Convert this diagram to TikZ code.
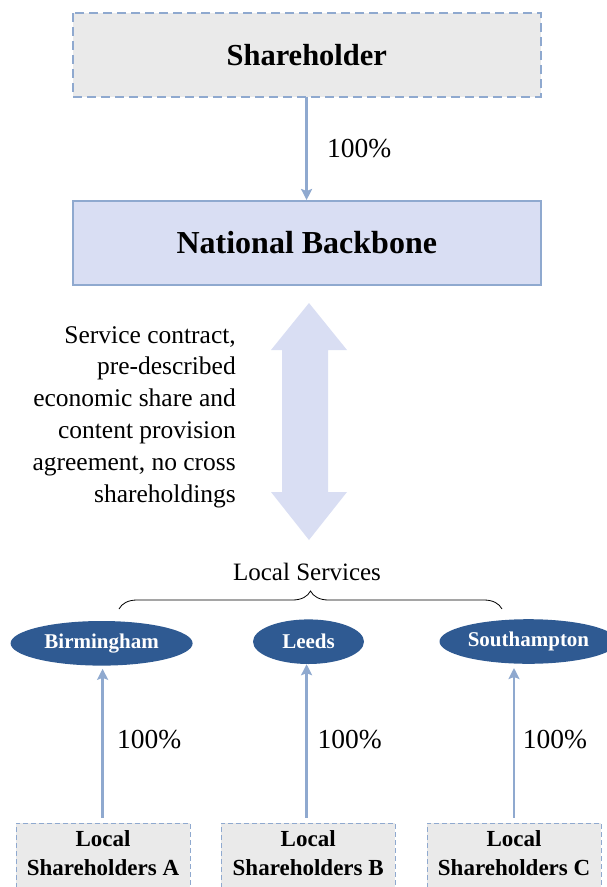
\documentclass[tikz,border=0pt]{standalone}
\usepackage{fontspec}
\setmainfont{Liberation Serif}
\usetikzlibrary{arrows.meta,decorations.pathreplacing,shapes.geometric}
\definecolor{bordc}{HTML}{8FA9CF}
\definecolor{grayf}{HTML}{EAEAEA}
\definecolor{bluef}{HTML}{D9DEF3}
\definecolor{ellc}{HTML}{2F5A92}
\tikzset{
  dashbox/.style={draw=bordc,fill=grayf,line width=1.8pt,dash pattern=on 9pt off 5pt},
  solidbox/.style={draw=bordc,fill=bluef,line width=1.8pt},
  city/.style={ellipse,fill=ellc,text=white,font=\fontsize{21}{24}\selectfont\bfseries,inner sep=0pt},
  own/.style={draw=bordc,line width=2.6pt,-{Stealth[length=11pt,width=11pt,inset=2pt]}},
  pct/.style={anchor=west,font=\fontsize{27.5}{30}\selectfont,inner sep=0pt},
  smallbox/.style={draw=bordc,fill=grayf,line width=1pt,dash pattern=on 5pt off 3pt,minimum width=174pt,minimum height=72pt,anchor=north west,inner sep=0pt}
}
\begin{document}
\begin{tikzpicture}[x=1pt,y=-1pt]
\useasboundingbox (0,0) rectangle (607,887);
\clip (0,0) rectangle (607,887);
% top boxes
\path[dashbox] (72.8,13.3) rectangle (540.8,96.7);
\node[font=\fontsize{30.5}{34}\selectfont\bfseries] (sh) at (306.8,55) {Shareholder};
\coordinate (shb) at (306.6,96.7);
\path[solidbox] (72.8,200.7) rectangle (540.8,285);
\node[font=\fontsize{32}{36}\selectfont\bfseries] (nb) at (306.8,243) {National Backbone};
\coordinate (nbt) at (306.6,200);
\draw[own] (shb) -- (nbt);
\node[pct] (p0) at (327,149) {100\%};
% double arrow
\fill[bluef] (309,303) -- (347,350) -- (328,350) -- (328,492) -- (347,492) -- (309,540)
  -- (271,492) -- (282,492) -- (282,350) -- (271,350) -- cycle;
\node[anchor=east,align=right,inner sep=0pt,font=\fontsize{25.5}{31.8}\selectfont] (txt) at (236,417)
  {Service contract,\\pre-described\\economic share and\\content provision\\agreement, no cross\\shareholdings};
% local services
\node[font=\fontsize{25}{28}\selectfont,inner sep=0pt] (ls) at (307,571.7) {Local Services};
\coordinate (bl) at (119,609);
\coordinate (br) at (502,609);
\draw[line width=0.8pt,decorate,decoration={brace,amplitude=18pt}] (bl) -- (br);
% cities
\node[city,minimum width=182pt,minimum height=44.6pt] (bir) at (101.6,643.3) {Birmingham};
\node[city,minimum width=111pt,minimum height=44.6pt] (lee) at (308.5,641.7) {Leeds};
\node[city,minimum width=178pt,minimum height=44.6pt] (sou) at (528.5,641.5) {Southampton};
% local shareholders
\node[smallbox] (la) at (15.5,822.7) {};
\node[smallbox] (lb) at (220.7,822.7) {};
\node[smallbox] (lc) at (426.6,822.7) {};
\foreach \b/\l in {la/A,lb/B,lc/C}{
  \node[align=center,anchor=north,inner sep=0pt,font=\fontsize{23}{29}\selectfont\bfseries] (\b t) at ([yshift=-8pt]\b.north) {Local\\Shareholders \l};
}
\coordinate (ta) at (102.6,817.7);
\coordinate (tb) at (306.6,817.7);
\coordinate (tc) at (514,817.7);
\draw[own] (ta) -- ([yshift=-3pt]ta |- bir.south);
\draw[own] (tb) -- (tb |- lee.south);
\draw[own] (tc) -- ([yshift=-4pt]tc |- sou.south);
\node[pct] (pa) at (117,740) {100\%};
\node[pct] (pb) at (317.5,740) {100\%};
\node[pct] (pc) at (522.6,740) {100\%};
\end{tikzpicture}
\end{document}
